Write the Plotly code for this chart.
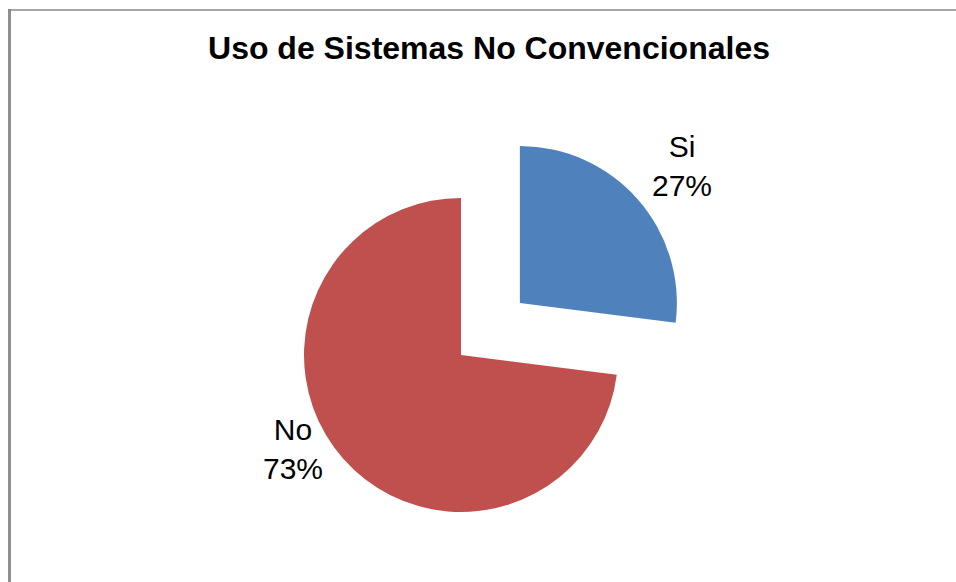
import math
import plotly.graph_objects as go

# Survey answers: use of non-conventional systems
labels = ["Si", "No"]
values = [27, 73]
colors = ["#4F81BD", "#C0504D"]
pulls = [0.5, 0.0]  # "Si" slice is exploded out of the pie

W, H = 956, 582
CX, CY, R = 461, 355, 157  # pie centre and radius in pixels

# label box centres (pixels)
label_pos = {"Si": (682, 166), "No": (293, 449)}

total = sum(values)
fig = go.Figure()

start = 0.0
for i, (lab, val) in enumerate(zip(labels, values)):
    frac = val / total
    mid = (start + frac / 2) * 2 * math.pi  # clockwise from 12 o'clock
    scx = CX + pulls[i] * R * math.sin(mid)
    scy = CY - pulls[i] * R * math.cos(mid)
    slice_colors = [c if j == i else "rgba(0,0,0,0)" for j, c in enumerate(colors)]
    fig.add_trace(go.Pie(
        labels=labels,
        values=values,
        sort=False,
        direction="clockwise",
        rotation=0,
        marker=dict(colors=slice_colors, line=dict(width=0)),
        textinfo="none",
        hoverinfo="label+percent",
        showlegend=False,
        domain=dict(
            x=[(scx - R) / W, (scx + R) / W],
            y=[1 - (scy + R) / H, 1 - (scy - R) / H],
        ),
    ))
    lx, ly = label_pos[lab]
    fig.add_annotation(
        x=lx / W, y=1 - ly / H, xref="paper", yref="paper",
        xanchor="center", yanchor="middle",
        text=f"{lab}<br>{round(100 * val / total)}%",
        showarrow=False, align="center",
        font=dict(family="Liberation Sans, Arial", size=30, color="#000000"),
    )
    start += frac

# chart-area frame (left and top edges visible)
fig.add_shape(type="line", xref="paper", yref="paper",
              x0=9.5 / W, x1=9.5 / W, y0=1 - 9 / H, y1=-0.05,
              line=dict(color="#8f8f8f", width=3))
fig.add_shape(type="line", xref="paper", yref="paper",
              x0=8 / W, x1=1.05, y0=1 - 10 / H, y1=1 - 10 / H,
              line=dict(color="#8a8a8a", width=1.5))

fig.update_layout(
    width=W, height=H,
    margin=dict(l=0, r=0, t=0, b=0),
    paper_bgcolor="white",
    plot_bgcolor="white",
    title=dict(
        text="<b>Uso de Sistemas No Convencionales</b>",
        x=489 / W, xanchor="center",
        y=1 - 48 / H, yanchor="middle", yref="container",
        font=dict(family="Liberation Sans, Arial", size=32, color="#000000"),
    ),
)

fig.write_html("out.html")
